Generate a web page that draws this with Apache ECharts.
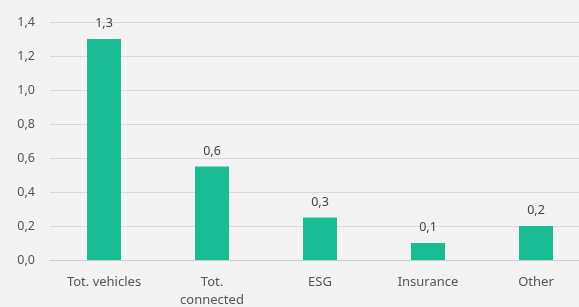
<!DOCTYPE html>
<html>
<head>
<meta charset="utf-8">
<script src="https://cdn.jsdelivr.net/npm/echarts@6/dist/echarts.min.js"></script>
<style>
  html, body { margin: 0; padding: 0; background: #f3f3f3; }
  #chart { width: 579px; height: 307px; }
</style>
</head>
<body>
<div id="chart"></div>
<script>
var categories = ['Tot. vehicles', 'Tot.\nconnected', 'ESG', 'Insurance', 'Other'];
var values = [1.3, 0.55, 0.25, 0.1, 0.2];
var valueLabels = ['1,3', '0,6', '0,3', '0,1', '0,2'];

var myChart = echarts.init(document.getElementById('chart'));
var option = {
    backgroundColor: '#f3f3f3',
    textStyle: { fontFamily: '"Noto Sans", sans-serif' },
    grid: {
        left: 50,
        top: 22,
        width: 540,
        bottom: 47,
        outerBoundsMode: 'none'
    },
    xAxis: {
        type: 'category',
        data: categories,
        axisTick: { show: false },
        axisLine: { lineStyle: { color: '#cfcfcf', width: 1 } },
        axisLabel: {
            color: '#555',
            fontSize: 13,
            margin: 13,
            lineHeight: 18
        }
    },
    yAxis: {
        type: 'value',
        min: 0,
        max: 1.4,
        interval: 0.2,
        axisLabel: {
            color: '#555',
            fontSize: 12.5,
            margin: 15,
            formatter: function (v) {
                return v.toFixed(1).replace('.', ',');
            }
        },
        splitLine: { lineStyle: { color: '#d9d9d9', width: 1 } }
    },
    series: [{
        type: 'bar',
        data: values,
        barWidth: 34,
        itemStyle: { color: '#1abc94' },
        label: {
            show: true,
            position: 'top',
            distance: 9,
            color: '#444',
            fontSize: 12.5,
            formatter: function (p) {
                return valueLabels[p.dataIndex];
            }
        }
    }]
};
myChart.setOption(option);
</script>
</body>
</html>
